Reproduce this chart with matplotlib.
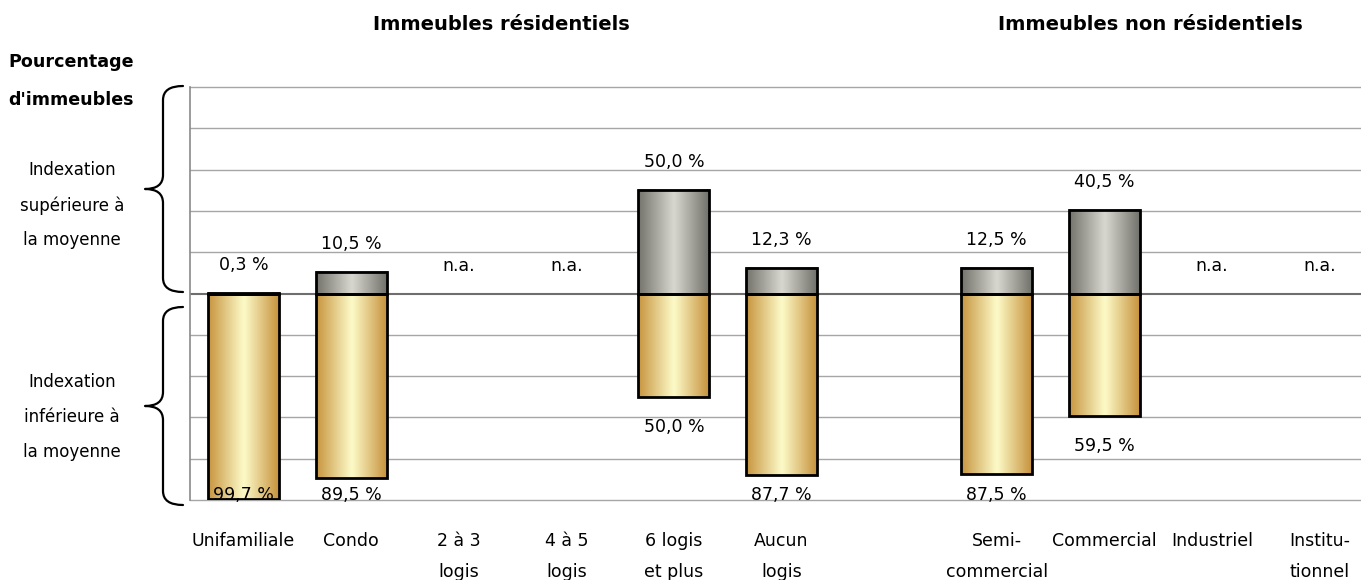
import numpy as np
import matplotlib

matplotlib.use("Agg")
import matplotlib.pyplot as plt
from matplotlib.path import Path
from matplotlib.patches import PathPatch
from matplotlib.colors import to_rgb

plt.rcParams["font.family"] = ["DejaVu Sans"]

# catégories (résidentiel puis non résidentiel)
res_labels = ["Unifamiliale", "Condo", "2 à 3\nlogis", "4 à 5\nlogis",
              "6 logis\net plus", "Aucun\nlogis"]
nonres_labels = ["Semi-\ncommercial", "Commercial", "Industriel", "Institu-\ntionnel"]

# % d'immeubles, indexation supérieure / inférieure à la moyenne (nan = n.a.)
res_sup = [0.3, 10.5, np.nan, np.nan, 50.0, 12.3]
res_inf = [99.7, 89.5, np.nan, np.nan, 50.0, 87.7]
nonres_sup = [12.5, 40.5, np.nan, np.nan]
nonres_inf = [87.5, 59.5, np.nan, np.nan]

W, H = 1361, 580
GOLD = ["#c79640", "#fdfbc9", "#c5913a"]
GREY = ["#74746c", "#d9d8d0", "#70706a"]
FS = 12.5


def fmt(v):
    return f"{v:.1f} %".replace(".", ",")


def gradient(stops, n=64):
    cols = np.array([to_rgb(c) for c in stops])
    t = np.linspace(0, 1, n)
    # bords foncés, centre clair
    s = np.linspace(0, 1, len(stops))
    img = np.stack([np.interp(t, s, cols[:, k]) for k in range(3)], axis=-1)
    return img[None, :, :]


def fill_bars(ax, bars, stops):
    img = gradient(stops)
    for b in bars:
        h = b.get_height()
        if np.isnan(h) or h == 0:
            continue
        x0, y0 = b.get_x(), b.get_y()
        ax.imshow(img, extent=[x0, x0 + b.get_width(), y0, y0 + h],
                  aspect="auto", interpolation="bicubic", zorder=2)


labels = res_labels + nonres_labels
sup = np.array(res_sup + nonres_sup)
inf = np.array(res_inf + nonres_inf)
# une case vide entre les deux groupes
x = np.r_[np.arange(len(res_labels)), np.arange(len(nonres_labels)) + len(res_labels) + 1]

fig = plt.figure(figsize=(W / 100, H / 100), dpi=100)
ax = fig.add_axes([190 / W, 1 - 500 / H, 1171 / W, 413 / H])

width = 0.66
b_sup = ax.bar(x, sup, width, bottom=0, facecolor="none", edgecolor="black",
               linewidth=2, zorder=3)
b_inf = ax.bar(x, -inf, width, bottom=0, facecolor="none", edgecolor="black",
               linewidth=2, zorder=3)
fill_bars(ax, b_sup, GREY)
fill_bars(ax, b_inf, GOLD)

for xi, s, i in zip(x, sup, inf):
    if np.isnan(s):
        ax.text(xi, 13.5, "n.a.", ha="center", va="center", fontsize=FS, zorder=4)
        continue
    ax.text(xi, max(s + 13.5, 14), fmt(s), ha="center", va="center",
            fontsize=FS, zorder=4)
    ax.text(xi, -min(i + 14.5, 97.5), fmt(i), ha="center", va="center",
            fontsize=FS, zorder=4)

for g in range(-100, 101, 20):
    if g == 0:
        ax.axhline(0, color="#6e6e6e", lw=1.5, zorder=1)
    else:
        ax.axhline(g, color="#a6a6a6", lw=1, zorder=1, clip_on=False)

ax.set_xlim(-0.497, 10.386)
ax.set_ylim(-100, 100)
ax.set_yticks([])
ax.set_xticks(x)
ax.set_xticklabels(labels, fontsize=FS, linespacing=1.95, va="top")
ax.tick_params(axis="x", length=0, pad=23)
for side in ["top", "right", "bottom"]:
    ax.spines[side].set_visible(False)
ax.spines["left"].set_color("#8a8a8a")
ax.spines["left"].set_linewidth(1.2)

# titres et légendes latérales
fig.text(501 / W, 1 - 25 / H, "Immeubles résidentiels", ha="center", va="center",
         fontsize=14, fontweight="bold")
fig.text(1150 / W, 1 - 25 / H, "Immeubles non résidentiels", ha="center",
         va="center", fontsize=14, fontweight="bold")
fig.text(8 / W, 1 - 62 / H, "Pourcentage", ha="left", va="center",
         fontsize=12.6, fontweight="bold")
fig.text(8 / W, 1 - 100 / H, "d'immeubles", ha="left", va="center",
         fontsize=12.6, fontweight="bold")
fig.text(72 / W, 1 - 205 / H, "Indexation\nsupérieure à\nla moyenne", ha="center",
         va="center", fontsize=12, linespacing=2.2)
fig.text(72 / W, 1 - 417 / H, "Indexation\ninférieure à\nla moyenne", ha="center",
         va="center", fontsize=12, linespacing=2.2)

# accolades, en pixels de la figure
ov = fig.add_axes([0, 0, 1, 1], zorder=5)
ov.set_xlim(0, W)
ov.set_ylim(H, 0)
ov.axis("off")
ov.patch.set_alpha(0)


def brace(top, bot, x_end=183, x_mid=163, x_tip=145):
    mid = (top + bot) / 2
    r = 14
    verts = [(x_end, top), (x_mid, top), (x_mid, top + r), (x_mid, top + r),
             (x_mid, mid - r), (x_mid, mid), (x_tip, mid),
             (x_mid, mid), (x_mid, mid + r), (x_mid, bot - r),
             (x_mid, bot - r), (x_mid, bot), (x_end, bot)]
    codes = [Path.MOVETO, Path.CURVE3, Path.CURVE3, Path.LINETO,
             Path.LINETO, Path.CURVE3, Path.CURVE3,
             Path.CURVE3, Path.CURVE3, Path.LINETO,
             Path.LINETO, Path.CURVE3, Path.CURVE3]
    ov.add_patch(PathPatch(Path(verts, codes), fill=False, lw=1.6, color="black",
                           capstyle="round", joinstyle="round"))


brace(86, 292)
brace(307, 505)

fig.savefig("out.png", dpi=100)
